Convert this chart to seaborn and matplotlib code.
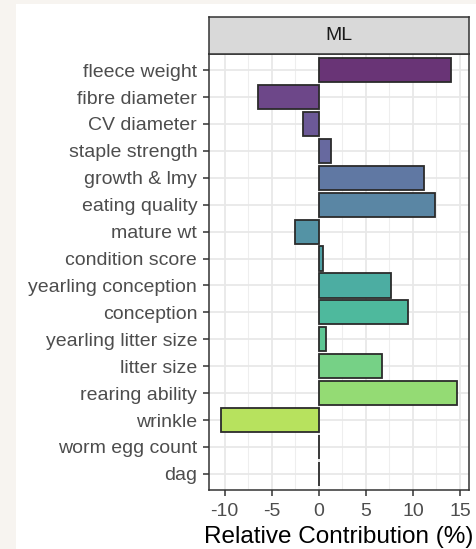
import numpy as np
import pandas as pd
import matplotlib

matplotlib.use("Agg")
import matplotlib.pyplot as plt
import seaborn as sns
from matplotlib.patches import Rectangle
from matplotlib.ticker import MultipleLocator

traits = [
    "fleece weight",
    "fibre diameter",
    "CV diameter",
    "staple strength",
    "growth & lmy",
    "eating quality",
    "mature wt",
    "condition score",
    "yearling conception",
    "conception",
    "yearling litter size",
    "litter size",
    "rearing ability",
    "wrinkle",
    "worm egg count",
    "dag",
]
contribution = [
    14.0, -6.45, -1.65, 1.35, 11.2, 12.3, -2.5, 0.5,
    7.7, 9.5, 0.8, 6.75, 14.7, -10.4, 0.0, 0.0,
]
panel = "ML"
xticks = [-10, -5, 0, 5, 10, 15]

df = pd.DataFrame({"trait": traits, "value": contribution})

# viridis_d with alpha 0.8 on white
base = plt.get_cmap("viridis")(np.linspace(0, 1, len(traits)))[:, :3]
colors = [tuple(0.8 * c + 0.2) for c in base]

sns.set_style("white")
plt.rcParams["font.family"] = ["Liberation Sans", "DejaVu Sans"]

W, H = 476, 549
fig = plt.figure(figsize=(W / 100, H / 100), dpi=100)
fig.patch.set_facecolor("#f7f4f0")
fig.patches.append(
    Rectangle((16 / W, 0), 1, 1 - 4 / H, transform=fig.transFigure,
              facecolor="white", edgecolor="none", zorder=-10)
)

left, right, top, bottom = 209, 469, 54, 490
ax = fig.add_axes([left / W, 1 - bottom / H, (right - left) / W, (bottom - top) / H])
ax.set_facecolor("white")

sns.barplot(
    data=df, x="value", y="trait", hue="trait", palette=colors,
    orient="h", width=0.9, edgecolor="#2b2b2b", linewidth=1.3,
    saturation=1, legend=False, ax=ax, zorder=3,
)

lo, hi = min(contribution), max(contribution)
pad = 0.05 * (hi - lo)
ax.set_xlim(lo - pad, hi + pad)
ax.set_ylim(len(traits) - 0.4, -0.6)

ax.set_xticks(xticks)
ax.set_xticklabels([str(t) for t in xticks])
ax.xaxis.set_minor_locator(MultipleLocator(2.5))
ax.grid(which="major", color="#e8e8e8", linewidth=1.3, zorder=0)
ax.grid(which="minor", axis="x", color="#eeeeee", linewidth=0.8, zorder=0)
ax.set_axisbelow(True)

ax.tick_params(axis="y", which="major", length=4.5, width=1.1, color="#333333",
               labelsize=14, labelcolor="#4d4d4d", pad=4, left=True)
ax.tick_params(axis="x", which="major", length=4.5, width=1.1, color="#333333",
               labelsize=14, labelcolor="#4d4d4d", pad=5, bottom=True)
ax.tick_params(axis="x", which="minor", length=0)
for s in ax.spines.values():
    s.set_color("#333333")
    s.set_linewidth(1.1)

ax.set_ylabel("")
ax.set_xlabel("Relative Contribution (%)", fontsize=17.5, color="black", labelpad=4)

# facet strip
strip = fig.add_axes([left / W, 1 - top / H, (right - left) / W, 37 / H])
strip.set_facecolor("#d9d9d9")
strip.set_xticks([])
strip.set_yticks([])
for s in strip.spines.values():
    s.set_color("#333333")
    s.set_linewidth(1.1)
strip.text(0.5, 0.5, panel, ha="center", va="center", fontsize=14,
           color="#1a1a1a", transform=strip.transAxes)

fig.savefig("out.png", dpi=100, facecolor=fig.get_facecolor())
